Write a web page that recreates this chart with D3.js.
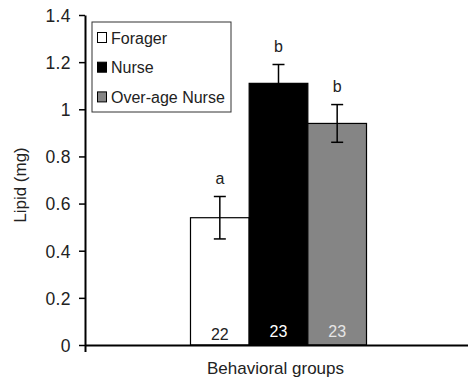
<!DOCTYPE html>
<html>
<head>
<meta charset="utf-8">
<script src="https://cdn.jsdelivr.net/npm/d3@7"></script>
<style>
  html, body { margin: 0; padding: 0; background: #fff; }
  svg { display: block; font-family: "Liberation Sans", Arial, sans-serif; }
</style>
</head>
<body>
<svg id="chart"></svg>
<script>
const groups = ['Forager', 'Nurse', 'Over-age Nurse'];
const lipid = [0.54, 1.11, 0.94];
const errors = [0.09, 0.08, 0.08];
const letters = ['a', 'b', 'b'];
const counts = [22, 23, 23];
const yTicks = [0, 0.2, 0.4, 0.6, 0.8, 1, 1.2, 1.4];
const category = 'Behavioral groups';

const width = 468;
const height = 380;
const margin = { top: 15, right: 0, bottom: 35, left: 85 };

const svg = d3.select('#chart')
    .attr('width', width)
    .attr('height', height);

const fills = d3.scaleOrdinal()
    .domain(groups)
    .range(['#ffffff', '#000000', '#858585']);
const countColors = d3.scaleOrdinal()
    .domain(groups)
    .range(['#222', '#fff', '#e6e6e6']);

const y = d3.scaleLinear()
    .domain([0, 1.4])
    .range([height - margin.bottom, margin.top]);

const x0 = d3.scaleBand()
    .domain([category])
    .range([margin.left + 2, width + 2])
    .paddingInner(0)
    .paddingOuter(0.588);

const x1 = d3.scaleBand()
    .domain(groups)
    .range([x0(category), x0(category) + x0.bandwidth()])
    .padding(0);

const cx = d => x1(d) + x1.bandwidth() / 2;
const idx = d => groups.indexOf(d);

// bars
svg.selectAll('.bar')
    .data(groups)
    .enter().append('rect')
    .attr('class', 'bar')
    .attr('x', d => x1(d))
    .attr('y', d => y(lipid[idx(d)]))
    .attr('width', x1.bandwidth())
    .attr('height', d => y(0) - y(lipid[idx(d)]))
    .attr('fill', d => fills(d))
    .attr('stroke', '#000')
    .attr('stroke-width', 1.2);

// error bars
const err = svg.selectAll('.err')
    .data(groups)
    .enter().append('g')
    .attr('class', 'err')
    .attr('stroke', '#000')
    .attr('stroke-width', 1.5);

err.append('line')
    .attr('x1', cx)
    .attr('x2', cx)
    .attr('y1', d => y(lipid[idx(d)] + errors[idx(d)]))
    .attr('y2', d => idx(d) === 1 ? y(lipid[idx(d)]) : y(lipid[idx(d)] - errors[idx(d)]));

err.append('line')
    .attr('x1', d => cx(d) - 6)
    .attr('x2', d => cx(d) + 6)
    .attr('y1', d => y(lipid[idx(d)] + errors[idx(d)]))
    .attr('y2', d => y(lipid[idx(d)] + errors[idx(d)]));

err.filter(d => idx(d) !== 1).append('line')
    .attr('x1', d => cx(d) - 6)
    .attr('x2', d => cx(d) + 6)
    .attr('y1', d => y(lipid[idx(d)] - errors[idx(d)]))
    .attr('y2', d => y(lipid[idx(d)] - errors[idx(d)]));

// significance letters
svg.selectAll('.letter')
    .data(groups)
    .enter().append('text')
    .attr('class', 'letter')
    .attr('x', cx)
    .attr('y', d => y(lipid[idx(d)] + errors[idx(d)]) - 13)
    .attr('text-anchor', 'middle')
    .style('font-size', '16px')
    .style('fill', '#222')
    .text(d => letters[idx(d)]);

// sample sizes
svg.selectAll('.count')
    .data(groups)
    .enter().append('text')
    .attr('class', 'count')
    .attr('x', cx)
    .attr('y', d => idx(d) === 0 ? y(0) - 5 : y(0) - 8)
    .attr('text-anchor', 'middle')
    .style('font-size', '16px')
    .style('fill', d => countColors(d))
    .text(d => counts[idx(d)]);

// y axis
const yAxis = svg.append('g')
    .attr('transform', `translate(${margin.left},0)`)
    .call(d3.axisLeft(y).tickValues(yTicks).tickFormat(d => String(d)).tickSize(6).tickSizeOuter(0).tickPadding(8));
yAxis.attr('font-family', null).attr('font-size', null);
yAxis.select('.domain').attr('stroke', '#000').attr('stroke-width', 2);
yAxis.selectAll('.tick line').attr('stroke', '#000').attr('stroke-width', 1.5);
yAxis.selectAll('.tick text')
    .attr('dy', '0.36em')
    .style('font-size', '17.5px')
    .style('letter-spacing', '0.4px')
    .style('fill', '#222');

// x axis
const xAxis = svg.append('g')
    .attr('transform', `translate(0,${y(0)})`)
    .call(d3.axisBottom(d3.scaleLinear().domain([0, 1]).range([margin.left, width])).tickValues([0]).tickFormat('').tickSize(7).tickSizeOuter(0));
xAxis.select('.domain').attr('stroke', '#000').attr('stroke-width', 2);
xAxis.selectAll('.tick line').attr('stroke', '#000').attr('stroke-width', 2);

// titles
svg.append('text')
    .attr('transform', 'rotate(-90)')
    .attr('x', -185)
    .attr('y', 26)
    .attr('text-anchor', 'middle')
    .style('font-size', '17px')
    .style('fill', '#222')
    .text('Lipid (mg)');

svg.append('text')
    .attr('x', x0(category) + x0.bandwidth() / 2 - 3)
    .attr('y', 374)
    .attr('text-anchor', 'middle')
    .style('font-size', '17px')
    .style('fill', '#222')
    .text(category);

// legend
const legend = svg.append('g').attr('transform', 'translate(92,22)');
legend.append('rect')
    .attr('width', 139)
    .attr('height', 90)
    .attr('fill', '#fff')
    .attr('stroke', '#333')
    .attr('stroke-width', 1);

const items = legend.selectAll('.item')
    .data(groups)
    .enter().append('g')
    .attr('class', 'item')
    .attr('transform', (d, i) => `translate(5,${15.5 + i * 29.7})`);

items.append('rect')
    .attr('x', 0.5)
    .attr('y', -5)
    .attr('width', 9)
    .attr('height', 10)
    .attr('fill', d => fills(d))
    .attr('stroke', '#000')
    .attr('stroke-width', 1);

items.append('text')
    .attr('x', 14)
    .attr('y', 6)
    .style('font-size', '16px')
    .style('fill', '#222')
    .text(d => d);
</script>
</body>
</html>
